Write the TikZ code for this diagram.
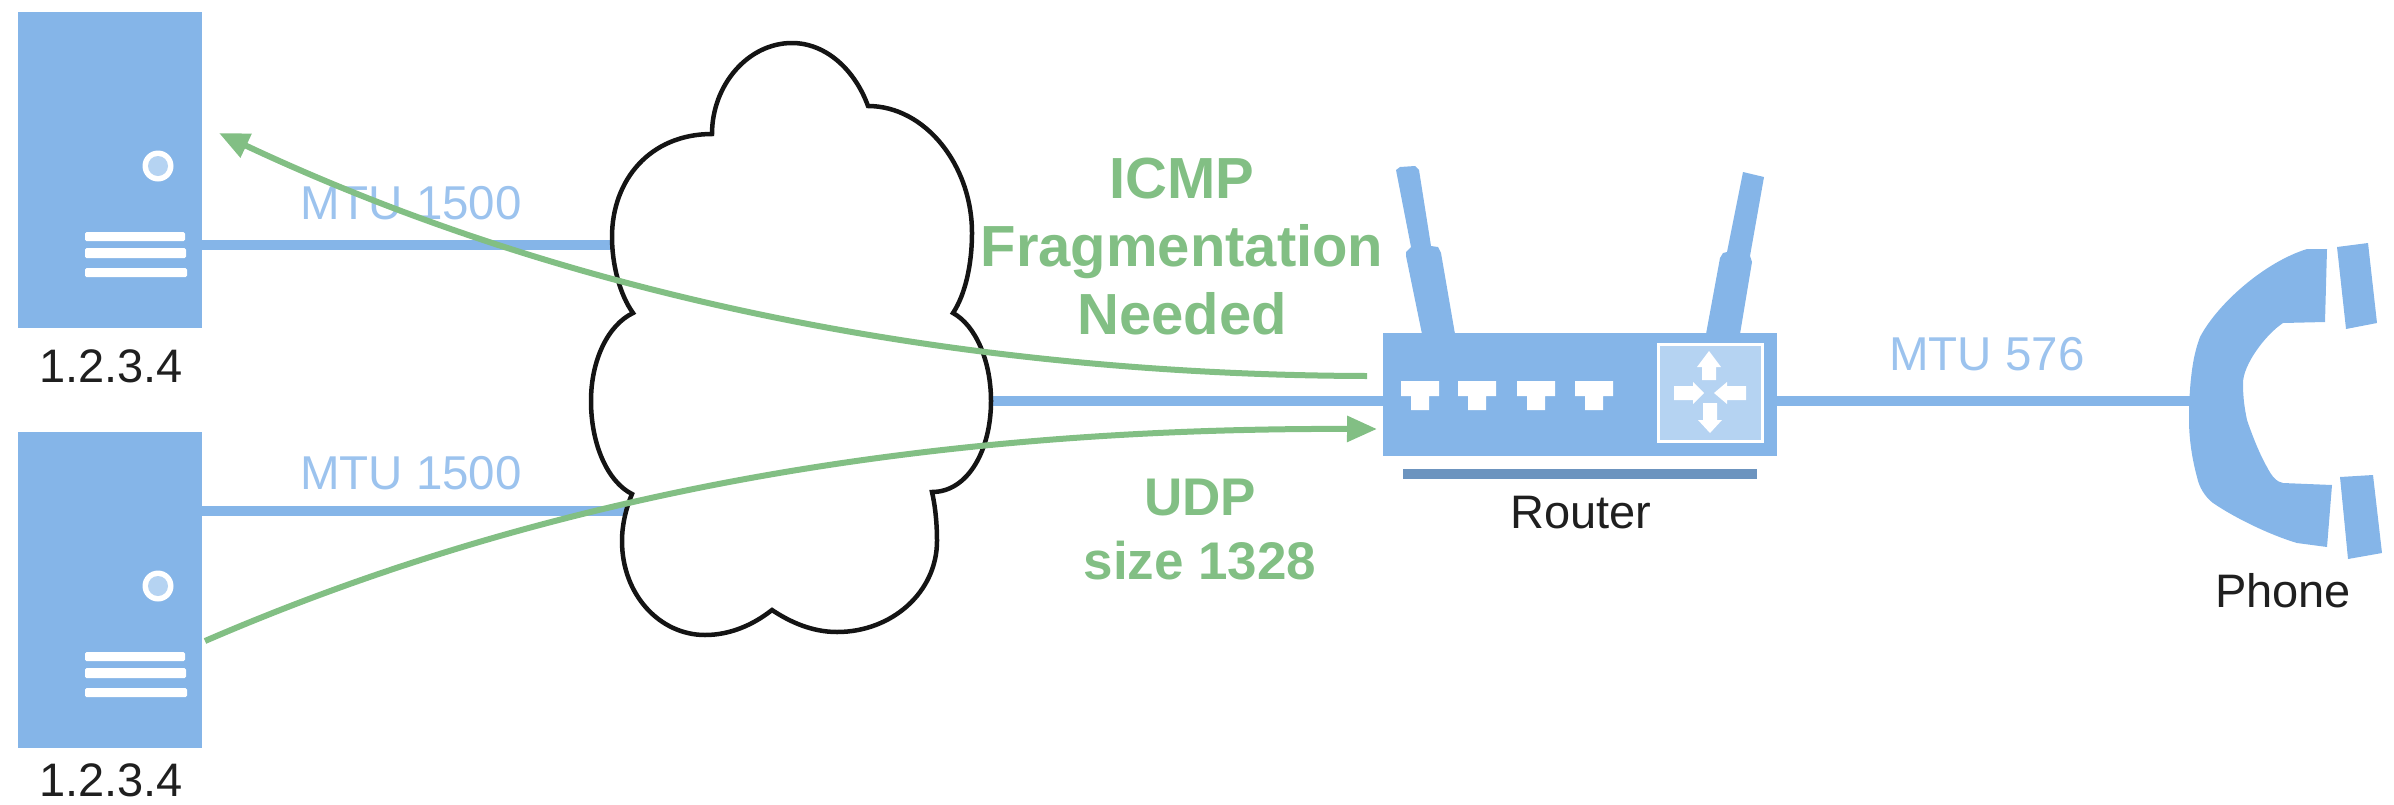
\documentclass[tikz,border=0pt]{standalone}
\usepackage{fontspec}
\setmainfont{Liberation Sans}
\usetikzlibrary{arrows.meta}
\definecolor{iconblue}{HTML}{85B5E8}
\definecolor{labelblue}{HTML}{9CC3EE}
\definecolor{panelblue}{HTML}{B5D3F2}
\definecolor{basebar}{HTML}{6C94BF}
\definecolor{flowgreen}{HTML}{82BF84}
\tikzset{
  x=1pt,y=-1pt,
  icon/.style={fill=iconblue,draw=none},
  whitepart/.style={fill=white,draw=none},
  link/.style={draw=iconblue,line width=10.5pt},
  flow/.style={draw=flowgreen,line width=6pt,-{Triangle[length=30pt,width=25pt]}},
  serverbox/.style={icon,rectangle,inner sep=0pt,minimum width=184pt,minimum height=316pt},
  mtu/.style={text=labelblue,font=\fontsize{47.5}{50}\selectfont,inner sep=0pt},
  caption/.style={text=black!88,font=\fontsize{47}{50}\selectfont,inner sep=0pt},
  flowtext/.style={text=flowgreen,align=center,inner sep=0pt,font=\fontsize{58}{68}\selectfont\bfseries},
  cloudline/.style={draw=black!92,line width=4.5pt,fill=white,line join=miter},
}
\begin{document}
\begin{tikzpicture}
\useasboundingbox (0,0) rectangle (2394,804);
% named anchor points
\coordinate (cloudA) at (612,245);
\coordinate (cloudB) at (626,511);
\coordinate (cloudC) at (991,401);
\coordinate (phoneIn) at (2190,401);
% servers
\node[serverbox] (server1) at (110,170) {};
\node[serverbox] (server2) at (110,590) {};
\coordinate (s1port) at (server1.east |- cloudA);
\coordinate (s2port) at (server2.east |- cloudB);
% router body
\node[icon,rectangle,inner sep=0pt,minimum width=394pt,minimum height=123pt] (router) at (1580,394.5) {};
% links
\draw[link] (s1port) -- (cloudA);
\draw[link] (s2port) -- (cloudB);
\draw[link] (cloudC) -- (router.west |- cloudC);
\draw[link] (router.east |- phoneIn) -- (phoneIn);
% server details
\foreach \dy in {0,420}{
  \begin{scope}[yshift=-\dy pt]
    \fill[white] (158,166) circle (15.5);
    \fill[panelblue] (158,166) circle (10);
    \fill[whitepart,rounded corners=1.5pt] (85,232) rectangle (185,241);
    \fill[whitepart,rounded corners=1.5pt] (85,248) rectangle (186,258);
    \fill[whitepart,rounded corners=1.5pt] (85,268) rectangle (187,277);
  \end{scope}
}
% cloud
\draw[cloudline] (633,313)
  .. controls (620,295) and (612,265) .. (612,237)
  .. controls (612,180) and (650,134) .. (712,134)
  .. controls (712,85) and (748,43) .. (792,43)
  .. controls (826,43) and (855,70) .. (868,106)
  .. controls (925,106) and (972,165) .. (972,233)
  .. controls (972,265) and (965,295) .. (953,313)
  .. controls (975,325) and (991,360) .. (991,401)
  .. controls (991,450) and (968,492) .. (932,492)
  .. controls (935,505) and (937,522) .. (937,541)
  .. controls (937,592) and (892,632) .. (837,632)
  .. controls (812,632) and (790,622) .. (772,610)
  .. controls (753,625) and (730,635) .. (705,635)
  .. controls (660,635) and (622,595) .. (622,541)
  .. controls (622,525) and (626,508) .. (632,494)
  .. controls (608,482) and (591,445) .. (591,401)
  .. controls (591,360) and (608,325) .. (633,313) -- cycle;
% router antennas
\fill[icon] (1396,170) -- (1400,167) -- (1415,166) -- (1419,170) -- (1431,246) -- (1438,247) -- (1441,253)
  -- (1455,334) -- (1422,334) -- (1406,256) -- (1406,252) -- (1411,247) -- cycle;
\fill[icon] (1743,172) -- (1764,177) -- (1750,256) -- (1752,262) -- (1740,334) -- (1706,334) -- (1720,258)
  -- (1723,253) -- (1727,252) -- cycle;
% router ports
\foreach \px in {1420,1477,1536,1594}{
  \fill[whitepart] (\px-19,381) -- (\px+19,381) -- (\px+19,396) -- (\px+9,396) -- (\px+9,410) -- (\px-9,410) -- (\px-9,396) -- (\px-19,396) -- cycle;
}
% router panel
\node[draw=white,line width=3pt,fill=panelblue,rectangle,inner sep=0pt,minimum width=104pt,minimum height=97pt] (panel) at (1710,393) {};
\fill[whitepart] (1709,351) -- (1721,367) -- (1716,367) -- (1716,380) -- (1702,380) -- (1702,367) -- (1697,367) -- cycle;
\fill[whitepart] (1710,433) -- (1722,420) -- (1717,420) -- (1717,403) -- (1703,403) -- (1703,420) -- (1698,420) -- cycle;
\fill[whitepart] (1704,393) -- (1693,382) -- (1693,386) -- (1674,386) -- (1674,400) -- (1693,400) -- (1693,404) -- cycle;
\fill[whitepart] (1714,393) -- (1727,382) -- (1727,386) -- (1746,386) -- (1746,400) -- (1727,400) -- (1727,404) -- cycle;
\node[fill=basebar,rectangle,inner sep=0pt,minimum width=354pt,minimum height=10pt] (routerbase) at (1580,474) {};
% phone
\fill[icon] (2327,249) -- (2325,322) -- (2283,323)
  .. controls (2265,335) and (2243,365) .. (2243,383)
  .. controls (2243,400) and (2245,410) .. (2247,420)
  .. controls (2252,435) and (2260,455) .. (2267,467)
  .. controls (2272,477) and (2277,482) .. (2283,483)
  -- (2332,485) -- (2327,547) -- (2297,543)
  .. controls (2270,535) and (2235,518) .. (2213,503)
  .. controls (2205,497) and (2199,487) .. (2197,477)
  .. controls (2191,455) and (2189,435) .. (2189,420)
  .. controls (2189,400) and (2190,385) .. (2192,370)
  .. controls (2194,355) and (2197,345) .. (2200,337)
  .. controls (2218,303) and (2265,262) .. (2307,249) -- cycle;
\fill[icon] (2337,247) -- (2368,243) -- (2377,323) -- (2346,329) -- cycle;
\fill[icon] (2340,477) -- (2373,475) -- (2382,553) -- (2348,559) -- cycle;
% black captions
\node[caption] (label1) at (111,366) {1.2.3.4};
\node[caption] (label2) at (111,780) {1.2.3.4};
\node[caption] (labelrouter) at (1581,513) {Router};
\node[caption] (labelphone) at (2283,591) {Phone};
% link labels
\node[mtu] (mtu1) at (411,203) {MTU 1500};
\node[mtu] (mtu2) at (411,473) {MTU 1500};
\node[mtu] (mtu3) at (1987,354) {MTU 576};
% flows
\coordinate (flowAstart) at (1367,376);
\coordinate (flowAend) at (219,133);
\coordinate (flowBstart) at (205,641);
\coordinate (flowBend) at (1377,429);
\draw[flow] (flowAstart) .. controls (1000,375) and (600,312) .. (flowAend);
\draw[flow] (flowBstart) .. controls (600,470) and (1000,428) .. (flowBend);
\node[flowtext] (icmp) at (1182,247) {ICMP\\Fragmentation\\Needed};
\node[flowtext,font=\fontsize{53}{64}\selectfont\bfseries] (udp) at (1200,530) {UDP\\size 1328};
\end{tikzpicture}
\end{document}
